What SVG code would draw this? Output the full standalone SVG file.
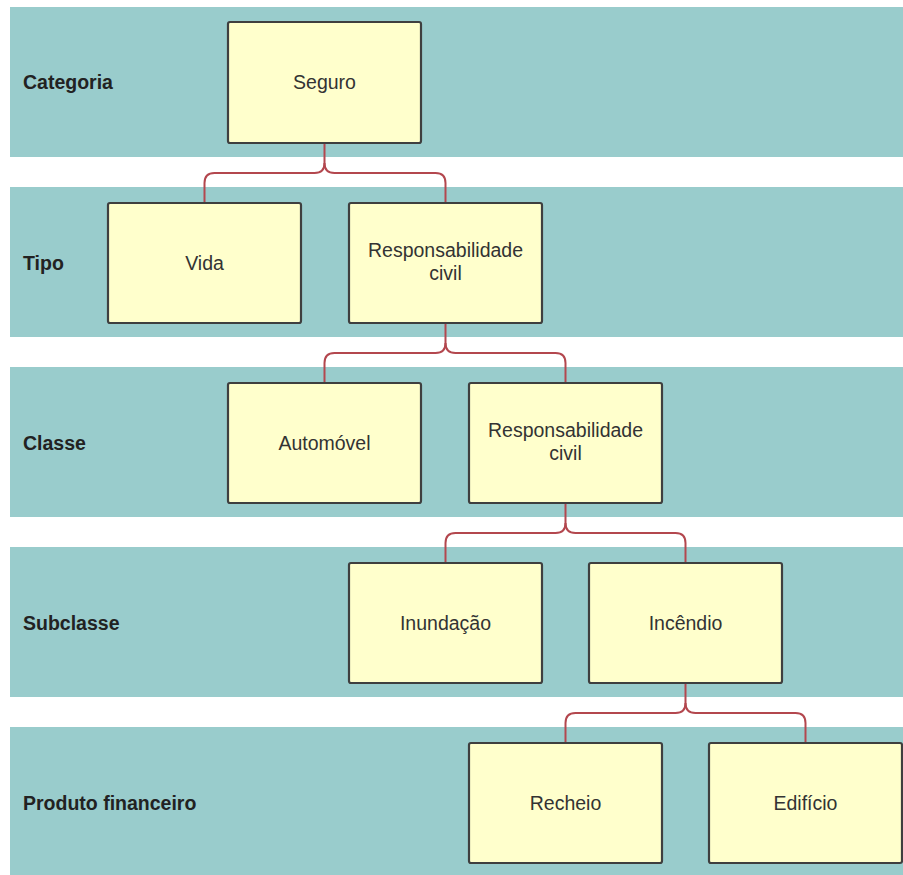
<svg xmlns="http://www.w3.org/2000/svg" width="903" height="875" viewBox="0 0 903 875">
<style>
.band{fill:#99cccc}
.lbl{font-family:"Liberation Sans",Arial,sans-serif;font-size:19.5px;font-weight:bold;fill:#222}
.box{fill:#ffffcc;stroke:#3f3f3f;stroke-width:2.2}
.txt{font-family:"Liberation Sans",Arial,sans-serif;font-size:19.5px;fill:#333;text-anchor:middle}
.con{fill:none;stroke:#b3474e;stroke-width:2}
</style>
<rect width="903" height="875" fill="#ffffff"/>
<g id="bands">
<rect class="band" x="10" y="7" width="893" height="150"/>
<rect class="band" x="10" y="187" width="893" height="150"/>
<rect class="band" x="10" y="367" width="893" height="150"/>
<rect class="band" x="10" y="547" width="893" height="150"/>
<rect class="band" x="10" y="727" width="893" height="148"/>
<text class="lbl" x="23" y="89">Categoria</text>
<text class="lbl" x="23" y="270">Tipo</text>
<text class="lbl" x="23" y="450">Classe</text>
<text class="lbl" x="23" y="630">Subclasse</text>
<text class="lbl" x="23" y="810">Produto financeiro</text>
</g>
<g id="connectors">
<path class="con" d="M324.5,143 V163 Q324.5,173 314.5,173 H214.5 Q204.5,173 204.5,183 V203"/>
<path class="con" d="M324.5,163 Q324.5,173 334.5,173 H435.5 Q445.5,173 445.5,183 V203"/>
<path class="con" d="M445.5,323 V343 Q445.5,353 435.5,353 H334.5 Q324.5,353 324.5,363 V383"/>
<path class="con" d="M445.5,343 Q445.5,353 455.5,353 H555.5 Q565.5,353 565.5,363 V383"/>
<path class="con" d="M565.5,503 V523 Q565.5,533 555.5,533 H455.5 Q445.5,533 445.5,543 V563"/>
<path class="con" d="M565.5,523 Q565.5,533 575.5,533 H675.5 Q685.5,533 685.5,543 V563"/>
<path class="con" d="M685.5,683 V703 Q685.5,713 675.5,713 H575.5 Q565.5,713 565.5,723 V743"/>
<path class="con" d="M685.5,703 Q685.5,713 695.5,713 H795.5 Q805.5,713 805.5,723 V743"/>
</g>
<g id="n-seguro"><rect class="box" x="228" y="22" width="193" height="121" rx="2"/><text class="txt" x="324.5" y="89">Seguro</text></g>
<g id="n-vida"><rect class="box" x="108" y="203" width="193" height="120" rx="2"/><text class="txt" x="204.5" y="270">Vida</text></g>
<g id="n-resp1"><rect class="box" x="349" y="203" width="193" height="120" rx="2"/><text class="txt" x="445.5" y="257">Responsabilidade</text><text class="txt" x="445.5" y="280">civil</text></g>
<g id="n-automovel"><rect class="box" x="228" y="383" width="193" height="120" rx="2"/><text class="txt" x="324.5" y="450">Automóvel</text></g>
<g id="n-resp2"><rect class="box" x="469" y="383" width="193" height="120" rx="2"/><text class="txt" x="565.5" y="437">Responsabilidade</text><text class="txt" x="565.5" y="460">civil</text></g>
<g id="n-inundacao"><rect class="box" x="349" y="563" width="193" height="120" rx="2"/><text class="txt" x="445.5" y="630">Inundação</text></g>
<g id="n-incendio"><rect class="box" x="589" y="563" width="193" height="120" rx="2"/><text class="txt" x="685.5" y="630">Incêndio</text></g>
<g id="n-recheio"><rect class="box" x="469" y="743" width="193" height="120" rx="2"/><text class="txt" x="565.5" y="810">Recheio</text></g>
<g id="n-edificio"><rect class="box" x="709" y="743" width="193" height="120" rx="2"/><text class="txt" x="805.5" y="810">Edifício</text></g>
</svg>
